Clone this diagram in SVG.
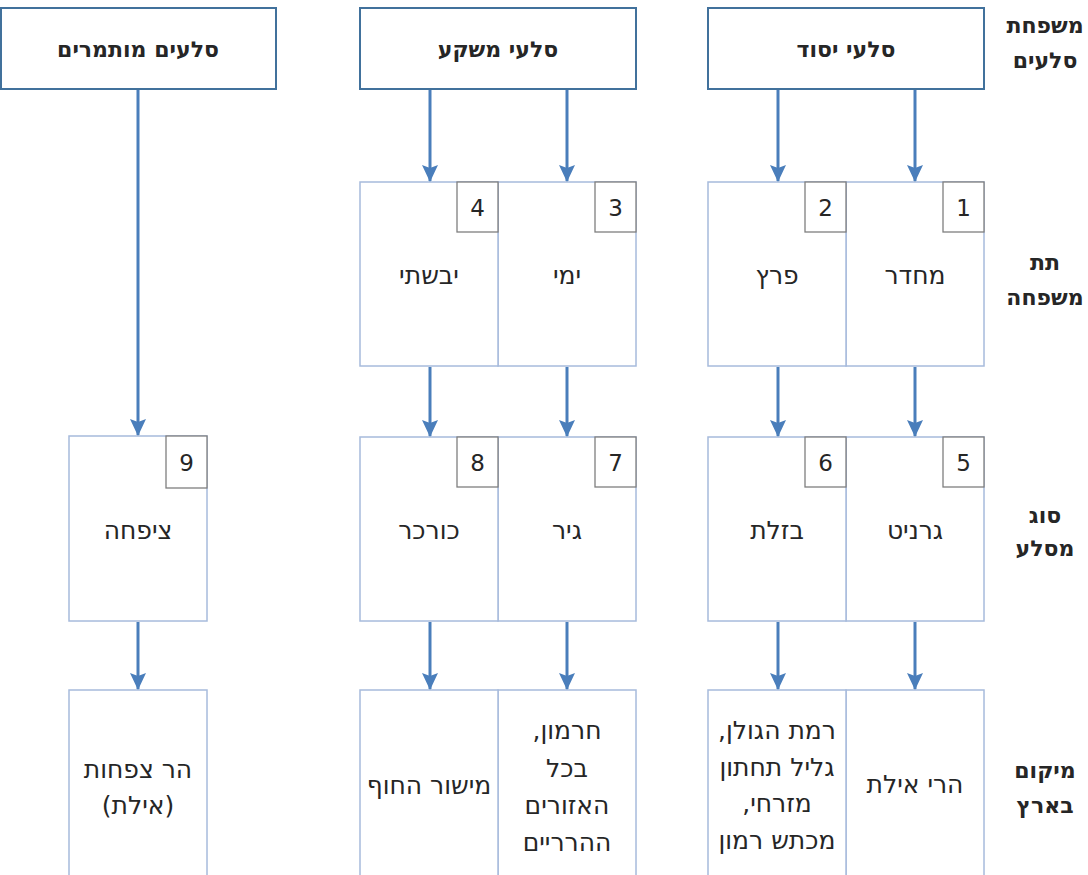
<svg xmlns="http://www.w3.org/2000/svg" width="1088" height="875" viewBox="0 0 1088 875">
<defs>
<marker id="ah" markerUnits="userSpaceOnUse" markerWidth="18" markerHeight="18" viewBox="0 0 18 18" refX="16" refY="9" orient="auto">
<path d="M0,1 L17,9 L0,17 L3,9 Z" fill="#4A7EBB"/>
</marker>
<style>
.top{fill:#fff;stroke:#41719C;stroke-width:2}
.box{fill:#fff;stroke:#A7BBDC;stroke-width:1.5}
.num{fill:#fff;stroke:#7F7F7F;stroke-width:1.3}
.t{font-family:"DejaVu Sans","Liberation Sans",sans-serif;font-size:25px;fill:#262626;text-anchor:middle;direction:rtl}
.tb{font-weight:bold;font-size:22px}
.r{font-weight:bold;font-size:22px}
.n{font-family:"DejaVu Sans","Liberation Sans",sans-serif;font-size:23px;fill:#262626;text-anchor:middle}
.c line{stroke:#4A7EBB;stroke-width:3;marker-end:url(#ah)}
</style>
</defs>
<rect width="1088" height="875" fill="#fff"/>

<g id="top-yesod"><rect class="top" x="708" y="8" width="276" height="81"/><text class="t tb" x="846" y="57">סלעי יסוד</text></g>
<g id="top-mishka"><rect class="top" x="360" y="8" width="276" height="81"/><text class="t tb" x="498" y="57">סלעי משקע</text></g>
<g id="top-mutmarim"><rect class="top" x="1" y="8" width="275" height="81"/><text class="t tb" x="138" y="57">סלעים מותמרים</text></g>

<g id="n1"><rect class="box" x="846" y="182" width="138" height="184"/><rect class="num" x="943" y="182" width="41" height="50"/><text class="n" x="963.5" y="216">1</text><text class="t" x="915" y="284">מחדר</text></g>
<g id="n2"><rect class="box" x="708" y="182" width="138" height="184"/><rect class="num" x="805" y="182" width="41" height="50"/><text class="n" x="825.5" y="216">2</text><text class="t" x="777" y="284">פרץ</text></g>
<g id="n3"><rect class="box" x="498" y="182" width="138" height="184"/><rect class="num" x="595" y="182" width="41" height="50"/><text class="n" x="615.5" y="216">3</text><text class="t" x="567" y="284">ימי</text></g>
<g id="n4"><rect class="box" x="360" y="182" width="138" height="184"/><rect class="num" x="457" y="182" width="41" height="50"/><text class="n" x="477.5" y="216">4</text><text class="t" x="429" y="284">יבשתי</text></g>

<g id="n5"><rect class="box" x="846" y="437" width="138" height="184"/><rect class="num" x="943" y="437" width="41" height="50"/><text class="n" x="963.5" y="471">5</text><text class="t" x="915" y="539">גרניט</text></g>
<g id="n6"><rect class="box" x="708" y="437" width="138" height="184"/><rect class="num" x="805" y="437" width="41" height="50"/><text class="n" x="825.5" y="471">6</text><text class="t" x="777" y="539">בזלת</text></g>
<g id="n7"><rect class="box" x="498" y="437" width="138" height="184"/><rect class="num" x="595" y="437" width="41" height="50"/><text class="n" x="615.5" y="471">7</text><text class="t" x="567" y="539">גיר</text></g>
<g id="n8"><rect class="box" x="360" y="437" width="138" height="184"/><rect class="num" x="457" y="437" width="41" height="50"/><text class="n" x="477.5" y="471">8</text><text class="t" x="429" y="539">כורכר</text></g>
<g id="n9"><rect class="box" x="69" y="436" width="138" height="185"/><rect class="num" x="166" y="436" width="41" height="52"/><text class="n" x="186.5" y="471">9</text><text class="t" x="138" y="539">ציפחה</text></g>

<g id="l1"><rect class="box" x="846" y="690" width="138" height="190"/><text class="t" x="915" y="793">הרי אילת</text></g>
<g id="l2"><rect class="box" x="708" y="690" width="138" height="190"/><text class="t" x="777" y="739">רמת הגולן,</text><text class="t" x="777" y="776">גליל תחתון</text><text class="t" x="777" y="812">מזרחי,</text><text class="t" x="777" y="849">מכתש רמון</text></g>
<g id="l3"><rect class="box" x="498" y="690" width="138" height="190"/><text class="t" x="567" y="739">חרמון,</text><text class="t" x="567" y="777">בכל</text><text class="t" x="567" y="814">האזורים</text><text class="t" x="567" y="851">ההרריים</text></g>
<g id="l4"><rect class="box" x="360" y="690" width="138" height="190"/><text class="t" x="429" y="794">מישור החוף</text></g>
<g id="l5"><rect class="box" x="69" y="690" width="138" height="190"/><text class="t" x="138" y="778">הר צפחות</text><text class="t" x="138" y="814">(אילת)</text></g>

<g id="row-labels">
<text class="t r" x="1045" y="33">משפחת</text><text class="t r" x="1045" y="68">סלעים</text>
<text class="t r" x="1045" y="270">תת</text><text class="t r" x="1045" y="305">משפחה</text>
<text class="t r" x="1045" y="523">סוג</text><text class="t r" x="1045" y="556">מסלע</text>
<text class="t r" x="1045" y="778">מיקום</text><text class="t r" x="1045" y="813">בארץ</text>
</g>

<g id="connectors" class="c">
<line x1="915" y1="90" x2="915" y2="181"/>
<line x1="778" y1="90" x2="778" y2="181"/>
<line x1="567" y1="90" x2="567" y2="181"/>
<line x1="430" y1="90" x2="430" y2="181"/>
<line x1="138" y1="90" x2="138" y2="435"/>
<line x1="915" y1="367" x2="915" y2="436"/>
<line x1="778" y1="367" x2="778" y2="436"/>
<line x1="567" y1="367" x2="567" y2="436"/>
<line x1="430" y1="367" x2="430" y2="436"/>
<line x1="915" y1="622" x2="915" y2="689"/>
<line x1="778" y1="622" x2="778" y2="689"/>
<line x1="567" y1="622" x2="567" y2="689"/>
<line x1="430" y1="622" x2="430" y2="689"/>
<line x1="138" y1="622" x2="138" y2="689"/>
</g>
</svg>
